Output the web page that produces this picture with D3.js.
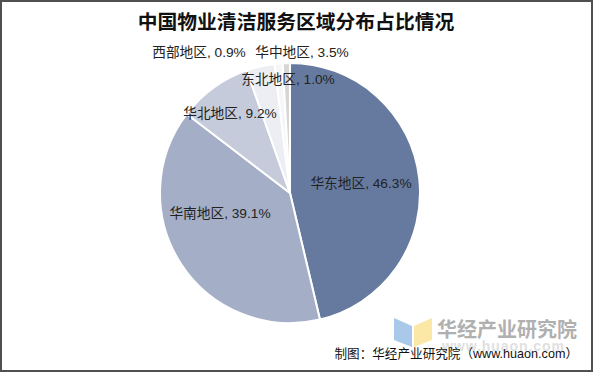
<!DOCTYPE html>
<html>
<head>
<meta charset="utf-8">
<script src="https://cdn.jsdelivr.net/npm/d3@7"></script>
<style>
  body { margin: 0; background: #fff; }
  svg { display: block; font-family: "Liberation Sans", Arial, "Noto Sans CJK SC", sans-serif; }
</style>
</head>
<body>
<div id="chart"></div>
<script>
// data
const regions = ['华东地区', '华南地区', '华北地区', '华中地区', '东北地区', '西部地区'];
const shares = [46.3, 39.1, 9.2, 3.5, 1.0, 0.9];
const colors = ['#667a9f', '#a4afc7', '#c5cbda', '#eceef3', '#f6f6f6', '#d6d6d6'];

const W = 593, H = 372;
const cx = 290, cy = 193, R = 130;

// where excel dropped the labels (text centre)
const labelPos = {
  '华东地区': [361, 183],
  '华南地区': [220, 213],
  '华北地区': [230, 113],
  '华中地区': [302, 52],
  '东北地区': [288, 79],
  '西部地区': [199, 52]
};

const svg = d3.select('#chart').append('svg')
  .attr('width', W).attr('height', H);

svg.append('rect').attr('x', 1).attr('y', 1).attr('width', W - 2).attr('height', H - 2)
  .attr('fill', '#fff').attr('stroke', '#505050').attr('stroke-width', 2);

svg.append('text').text('中国物业清洁服务区域分布占比情况')
  .attr('x', 296).attr('y', 29).attr('text-anchor', 'middle')
  .attr('font-family', '"Noto Sans CJK SC", sans-serif')
  .attr('font-weight', 'bold').attr('font-size', 19.8).attr('fill', '#111');

const data = regions.map((r, i) => ({ region: r, value: shares[i], color: colors[i] }));

const pie = d3.pie().value(d => d.value).sort(null);
const arc = d3.arc().innerRadius(0).outerRadius(R);

const g = svg.append('g').attr('transform', `translate(${cx},${cy})`);
g.selectAll('path').data(pie(data)).join('path')
  .attr('d', arc)
  .attr('fill', d => d.data.color)
  .attr('stroke', '#fff').attr('stroke-width', 2).attr('stroke-linejoin', 'round');

svg.append('g').selectAll('text').data(data).join('text')
  .text(d => `${d.region}, ${d.value.toFixed(1)}%`)
  .attr('x', d => labelPos[d.region][0])
  .attr('y', d => labelPos[d.region][1] + 5)
  .attr('text-anchor', 'middle')
  .attr('font-size', 13.7).attr('fill', '#222');

// watermark logo
const logo = svg.append('g');
logo.append('path').attr('d', 'M394,318 L412,326 L412,347 L394,340 Z').attr('fill', '#a9c8ea');
logo.append('path').attr('d', 'M414,326 L432,318 L432,340 L414,347 Z').attr('fill', '#fbe7a6');
logo.append('text').text('华经产业研究院')
  .attr('x', 437).attr('y', 337)
  .attr('font-family', '"Noto Sans CJK SC", sans-serif')
  .attr('font-weight', 'bold').attr('font-size', 20).attr('fill', '#b0b0b0');
logo.append('text').text('www.huaon.com')
  .attr('x', 442).attr('y', 351)
  .attr('textLength', 122).attr('lengthAdjust', 'spacing')
  .attr('font-weight', 'bold').attr('font-size', 14).attr('fill', '#e0e0e0');

svg.append('text').text('制图：华经产业研究院（www.huaon.com）')
  .attr('x', 578).attr('y', 358).attr('text-anchor', 'end')
  .attr('font-size', 12.6).attr('fill', '#111');
</script>
</body>
</html>
